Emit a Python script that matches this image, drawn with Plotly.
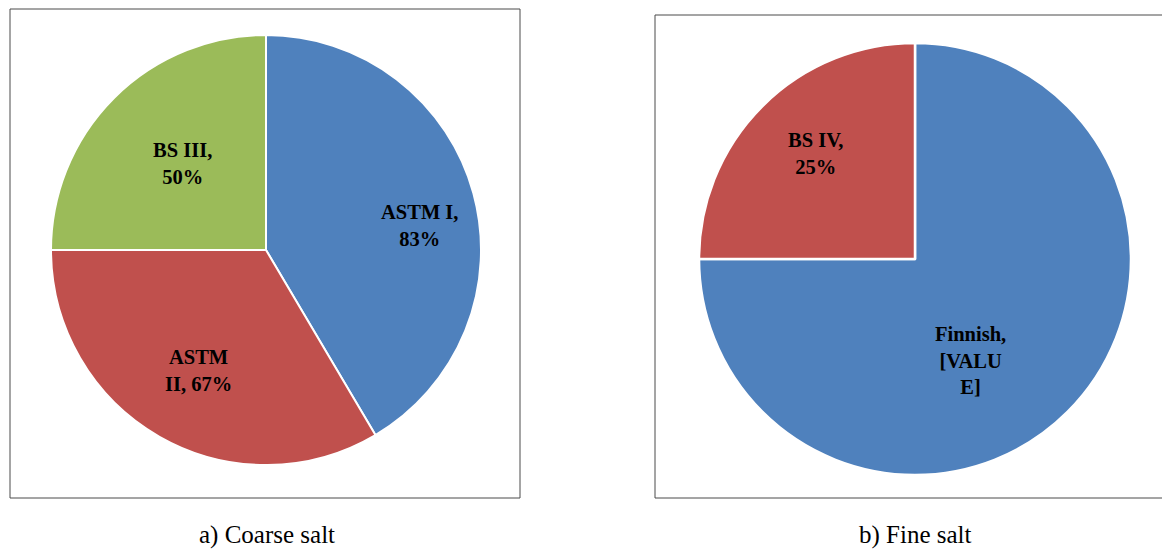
import plotly.graph_objects as go

W, H = 1162, 549

coarse_labels = ["ASTM I", "ASTM II", "BS III"]
coarse_values = [83, 67, 50]
coarse_text = ["ASTM I,<br>83%", "ASTM<br>II, 67%", "BS III,<br>50%"]

fine_labels = ["Finnish", "BS IV"]
fine_values = [75, 25]
fine_text = ["Finnish,<br>[VALU<br>E]", "BS IV,<br>25%"]

# label anchor positions (pixels) - styling only
coarse_label_pos = [(419, 225), (198, 370), (182, 164)]
fine_label_pos = [(970, 360), (815, 153)]

blue, red, green = "#4F81BD", "#C0504D", "#9BBB59"

def px_dom(x0, x1, y0, y1):
    return dict(x=[x0 / W, x1 / W], y=[1 - y1 / H, 1 - y0 / H])

fig = go.Figure()
fig.add_trace(go.Pie(
    labels=coarse_labels, values=coarse_values,
    textinfo="none", sort=False, direction="clockwise", rotation=0,
    marker=dict(colors=[blue, red, green], line=dict(color="white", width=2)),
    domain=px_dom(51, 481, 35, 465), showlegend=False, hoverinfo="label+value",
))
fig.add_trace(go.Pie(
    labels=fine_labels, values=fine_values,
    textinfo="none", sort=False, direction="clockwise", rotation=0,
    marker=dict(colors=[blue, red], line=dict(color="white", width=2.5)),
    domain=px_dom(699, 1131, 43, 475), showlegend=False, hoverinfo="label+value",
))

lab_font = dict(family="Liberation Serif", size=20.5, color="black", weight="bold")
for txt, (x, y) in list(zip(coarse_text, coarse_label_pos)) + list(zip(fine_text, fine_label_pos)):
    fig.add_annotation(text=txt, x=x / W, y=1 - y / H, xref="paper", yref="paper",
                       showarrow=False, xanchor="center", yanchor="middle",
                       align="center", font=lab_font)

box_line = dict(color="#4a4a4a", width=1)
fig.add_shape(type="rect", xref="paper", yref="paper",
              x0=10 / W, x1=520 / W, y0=1 - 498 / H, y1=1 - 9 / H, line=box_line)
fig.add_shape(type="rect", xref="paper", yref="paper",
              x0=655 / W, x1=1175 / W, y0=1 - 498 / H, y1=1 - 15 / H, line=box_line)

for txt, xc in [("a) Coarse salt", 267), ("b) Fine salt", 915)]:
    fig.add_annotation(text=txt, x=xc / W, y=1 - 535 / H, xref="paper", yref="paper",
                       showarrow=False, xanchor="center", yanchor="middle",
                       font=dict(family="Liberation Serif", size=25, color="black"))

fig.update_layout(width=W, height=H, margin=dict(l=0, r=0, t=0, b=0),
                  paper_bgcolor="white", plot_bgcolor="white")
fig.write_html("out.html", config={"displayModeBar": False})

# remove default body margin so the figure sits at the page origin
with open("out.html", "r", encoding="utf-8") as f:
    html = f.read()
html = html.replace("<body>", '<body style="margin:0;overflow:hidden">', 1)
with open("out.html", "w", encoding="utf-8") as f:
    f.write(html)
